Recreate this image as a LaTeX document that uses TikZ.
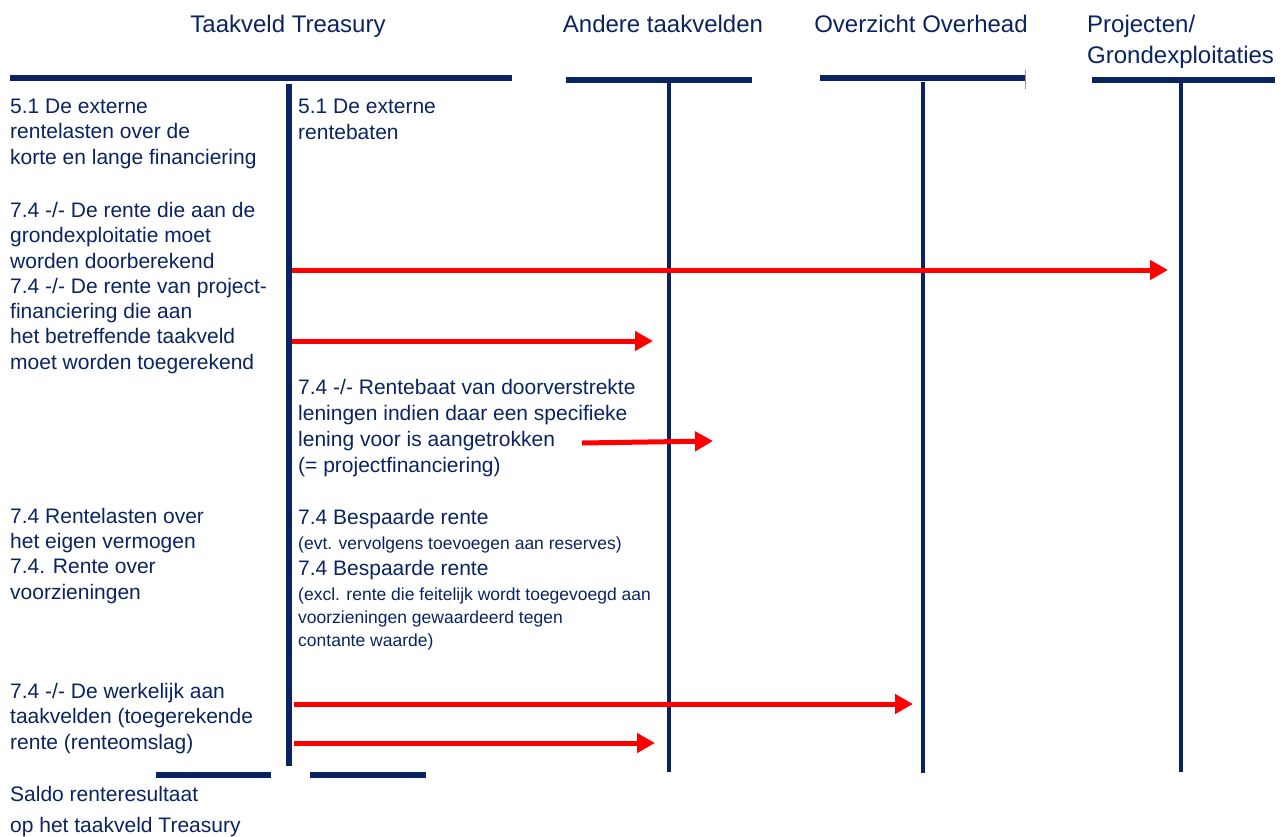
\documentclass[tikz,border=0pt]{standalone}
\usepackage{fontspec}
\setmainfont{Liberation Sans}
\usetikzlibrary{arrows.meta}
\definecolor{navy}{HTML}{0B2461}
\definecolor{pijlrood}{HTML}{FF0000}

\begin{document}
\begin{tikzpicture}[x=1pt,y=-1pt,>={Triangle[length=18pt,width=19pt]},
  kop/.style={font=\fontsize{24}{31}\selectfont,text=navy,align=left,inner sep=0pt},
  tekst/.style={font=\fontsize{21}{25.3}\selectfont,text=navy,align=left,anchor=base west,inner sep=0pt},
  klein/.style={font=\fontsize{17.5}{23}\selectfont,text=navy,align=left,anchor=base west,inner sep=0pt},
  balk/.style={navy,line width=6pt},
  lijn/.style={navy,line width=4.5pt},
  pijl/.style={->,pijlrood,line width=5pt}]
  \useasboundingbox (0,0) rectangle (1288,836);
  \fill[white] (0,0) rectangle (1288,836);

  % kolomkoppen (base = laatste regel)
  \node[kop,anchor=base] (hTre) at (288,32) {Taakveld Treasury};
  \node[kop,anchor=base] (hAnd) at (663,32) {Andere taakvelden};
  \node[kop,anchor=base] (hOve) at (921,32) {Overzicht Overhead};
  \node[kop,anchor=base west] (hPro) at (1087,63) {Projecten/\\Grondexploitaties};

  % balken en lijnen
  \coordinate (treL) at (10,78);   \coordinate (treR) at (512,78);
  \coordinate (andL) at (566,80);  \coordinate (andR) at (752,80);
  \coordinate (oveL) at (820,78);  \coordinate (oveR) at (1025,78);
  \coordinate (proL) at (1092,80); \coordinate (proR) at (1275,80);
  \draw[balk] (treL) -- (treR);
  \draw[balk] (andL) -- (andR);
  \draw[balk] (oveL) -- (oveR);
  \draw[balk] (proL) -- (proR);
  \draw[black!40,line width=0.6pt] (1025.5,70) -- (1025.5,89);

  \coordinate (treT) at (289,84);  \coordinate (treB) at (289,766);
  \coordinate (andT) at (669,82);  \coordinate (andB) at (669,772);
  \coordinate (oveT) at (923,82);  \coordinate (oveB) at (923,773);
  \coordinate (proT) at (1181,82); \coordinate (proB) at (1181,772);
  \draw[lijn,line width=6pt] (treT) -- (treB);
  \draw[lijn] (andT) -- (andB);
  \draw[lijn] (oveT) -- (oveB);
  \draw[lijn] (proT) -- (proB);

  \coordinate (saL1) at (156,775); \coordinate (saR1) at (271,775);
  \coordinate (saL2) at (310,775); \coordinate (saR2) at (426,775);
  \draw[balk] (saL1) -- (saR1);
  \draw[balk] (saL2) -- (saR2);

  % linkerkolom
  \node[tekst] (l1) at (10,164) {5.1 De externe\\rentelasten over de\\korte en lange financiering};
  \node[tekst] (l2) at (10,268) {7.4 -/- De rente die aan de\\grondexploitatie moet\\worden doorberekend};
  \node[tekst] (l3) at (10,369) {7.4 -/- De rente van project-\\financiering die aan\\het betreffende taakveld\\moet worden toegerekend};
  \node[tekst] (l4) at (10,599) {7.4 Rentelasten over\\het eigen vermogen\\7.4. Rente over\\voorzieningen};
  \node[tekst] (l5) at (10,749) {7.4 -/- De werkelijk aan\\taakvelden (toegerekende\\rente (renteomslag)};
  \node[tekst,font=\fontsize{21}{31}\selectfont] (l6) at (10,832) {Saldo renteresultaat\\op het taakveld Treasury};

  % rechterkolom
  \node[tekst] (r1) at (298,139) {5.1 De externe\\rentebaten};
  \node[tekst,font=\fontsize{21}{25.8}\selectfont] (r2) at (298,472) {7.4 -/- Rentebaat van doorverstrekte\\leningen indien daar een specifieke\\lening voor is aangetrokken\\(= projectfinanciering)};
  \node[tekst] (r3) at (298,524) {7.4 Bespaarde rente};
  \node[klein] (r4) at (298,549) {(evt. vervolgens toevoegen aan reserves)};
  \node[tekst] (r5) at (298,575) {7.4 Bespaarde rente};
  \node[klein] (r6) at (298,646) {(excl. rente die feitelijk wordt toegevoegd aan\\voorzieningen gewaardeerd tegen\\contante waarde)};

  % pijlen
  \coordinate (p1a) at (292,270);  \coordinate (p1b) at (1168,270);
  \coordinate (p2a) at (292,341);  \coordinate (p2b) at (653,341);
  \coordinate (p3a) at (582,443);  \coordinate (p3b) at (713,441);
  \coordinate (p4a) at (294,704);  \coordinate (p4b) at (913,704);
  \coordinate (p5a) at (294,743);  \coordinate (p5b) at (655,743);
  \draw[pijl] (p1a) -- (p1b);
  \draw[pijl] (p2a) -- (p2b);
  \draw[pijl] (p3a) -- (p3b);
  \draw[pijl] (p4a) -- (p4b);
  \draw[pijl] (p5a) -- (p5b);
\end{tikzpicture}
\end{document}
